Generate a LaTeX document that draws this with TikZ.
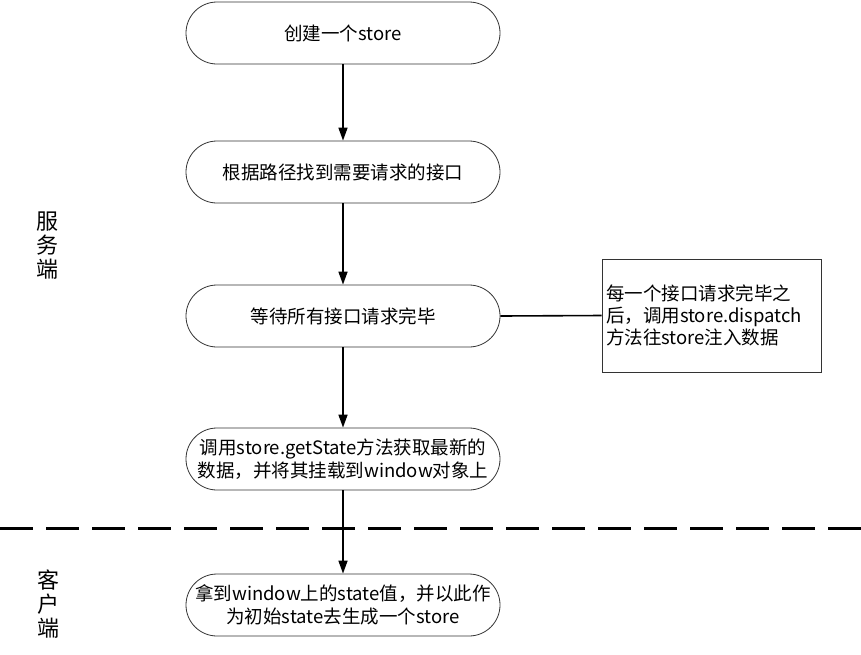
\documentclass[tikz,border=0pt]{standalone}
\usepackage{fontspec}
\setmainfont{Noto Sans CJK SC}
\usetikzlibrary{arrows.meta}
\begin{document}
\begin{tikzpicture}[x=1pt,y=-1pt,
  flowbox/.style={draw=black!80,line width=0.8pt,rounded corners=31pt,minimum width=314pt,minimum height=62pt,align=center,font=\fontsize{18.5}{22.5}\selectfont,inner sep=0pt},
  notebox/.style={draw=black!80,line width=0.8pt,minimum width=219pt,minimum height=113pt,align=left,font=\fontsize{18.5}{22}\selectfont,inner sep=4pt,text width=211pt},
  flow/.style={line width=1.6pt,-{Triangle[length=13pt,width=9pt]}},
  lane/.style={font=\fontsize{22}{24}\selectfont,align=center}]
\useasboundingbox (0,0) rectangle (861,654);
\node[flowbox] (b1) at (343,33) {创建一个store};
\node[flowbox] (b2) at (343,172) {根据路径找到需要请求的接口};
\node[flowbox] (b3) at (343,316) {等待所有接口请求完毕};
\node[flowbox] (b4) at (343,459) {调用store.getState方法获取最新的\\数据，并将其挂载到window对象上};
\node[flowbox] (b5) at (343,605) {拿到window上的state值，并以此作\\为初始state去生成一个store};
\node[notebox] (n) at (711.5,315.5) {每一个接口请求完毕之\\后，调用store.dispatch\\方法往store注入数据};
\node[lane] (s) at (47,246) {服\\务\\端};
\node[lane] (c) at (48,604) {客\\户\\端};
\coordinate (dl) at (0,528);
\coordinate (dr) at (861,528);
\draw[line width=3pt,dash pattern=on 33pt off 13pt] (dl) -- (dr);
\draw[flow] (b1) -- (b2);
\draw[flow] (b2) -- (b3);
\draw[flow] (b3) -- (b4);
\draw[flow] (b4) -- (b5);
\draw[line width=1.6pt] (b3.east) -- (n.west);
\end{tikzpicture}
\end{document}
